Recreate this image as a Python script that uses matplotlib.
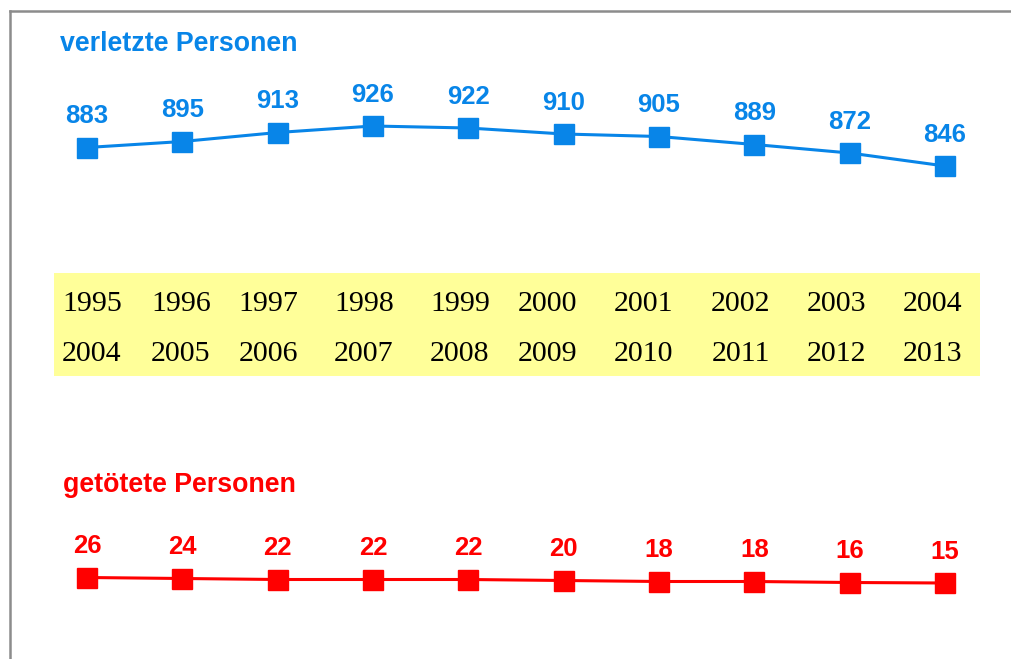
import matplotlib.pyplot as plt
from matplotlib.lines import Line2D

# data
years_top = ["1995", "1996", "1997", "1998", "1999", "2000", "2001", "2002", "2003", "2004"]
years_bottom = ["2004", "2005", "2006", "2007", "2008", "2009", "2010", "2011", "2012", "2013"]
injured = [883, 895, 913, 926, 922, 910, 905, 889, 872, 846]
killed = [26, 24, 22, 22, 22, 20, 18, 18, 16, 15]

BLUE = "#0885E8"
RED = "#FF0000"
W, H = 1011, 659

# tab-stop centres of the year columns (pixels)
year_cols_px = [92, 181, 268, 364, 460, 548, 644, 741, 837, 933]

fig = plt.figure(figsize=(W / 100, H / 100), dpi=100)
fig.patch.set_facecolor("white")


def px_axes(x0, y0, x1, y1):
    return fig.add_axes([x0 / W, 1 - y1 / H, (x1 - x0) / W, (y1 - y0) / H])


def idx(p):
    # pixel x -> category index (first marker at 87px, step 95.33px)
    return (p - 87) / 95.33


x = list(range(len(injured)))

# Verletzte Personen
ax1 = px_axes(40, 60, 990, 260)
ax1.set_xlim(idx(40), idx(990))
ax1.set_ylim(658, 1058)
ax1.plot(x, injured, color=BLUE, lw=2.2, marker="s", ms=14, mec=BLUE, clip_on=False)
for xi, v in zip(x, injured):
    ax1.annotate(str(v), (xi, v), xytext=(0, 17.5), textcoords="offset points",
                 ha="center", va="baseline", color=BLUE, fontsize=18.5,
                 fontweight="bold", family="Liberation Sans")
ax1.axis("off")

# Getötete Personen
ax2 = px_axes(40, 500, 990, 640)
ax2.set_xlim(idx(40), idx(990))
ax2.set_ylim(-99, 181)
ax2.plot(x, killed, color=RED, lw=2.2, marker="s", ms=14, mec=RED, clip_on=False)
for xi, v in zip(x, killed):
    ax2.annotate(str(v), (xi, v), xytext=(0, 17.5), textcoords="offset points",
                 ha="center", va="baseline", color=RED, fontsize=18.5,
                 fontweight="bold", family="Liberation Sans")
ax2.axis("off")

# year box
ax3 = px_axes(54, 273, 980, 376)
ax3.set_xlim(idx(54), idx(980))
ax3.set_ylim(0, 1)
ax3.set_facecolor("#FFFF99")
for s in ax3.spines.values():
    s.set_visible(False)
ax3.set_xticks([])
ax3.set_yticks([])
for cx, a, b in zip(year_cols_px, years_top, years_bottom):
    ax3.text(idx(cx), 0.631, a, ha="center", va="baseline", fontsize=21.5,
             family="Liberation Serif", color="black")
    ax3.text(idx(cx), 0.146, b, ha="center", va="baseline", fontsize=21.5,
             family="Liberation Serif", color="black")

# titles
fig.text(60 / W, 1 - 51 / H, "verletzte Personen", color=BLUE, fontsize=19.3,
         fontweight="bold", family="Liberation Sans", va="baseline")
fig.text(63 / W, 1 - 492 / H, "getötete Personen", color=RED, fontsize=19.3,
         fontweight="bold", family="Liberation Sans", va="baseline")

# frame (left + top)
fig.add_artist(Line2D([10 / W, 10 / W], [0, 1 - 11 / H], color="#8c8c8c", lw=1.8,
                      transform=fig.transFigure))
fig.add_artist(Line2D([10 / W, 1], [1 - 11 / H, 1 - 11 / H], color="#8c8c8c", lw=1.8,
                      transform=fig.transFigure))

fig.savefig("out.png", dpi=100)
